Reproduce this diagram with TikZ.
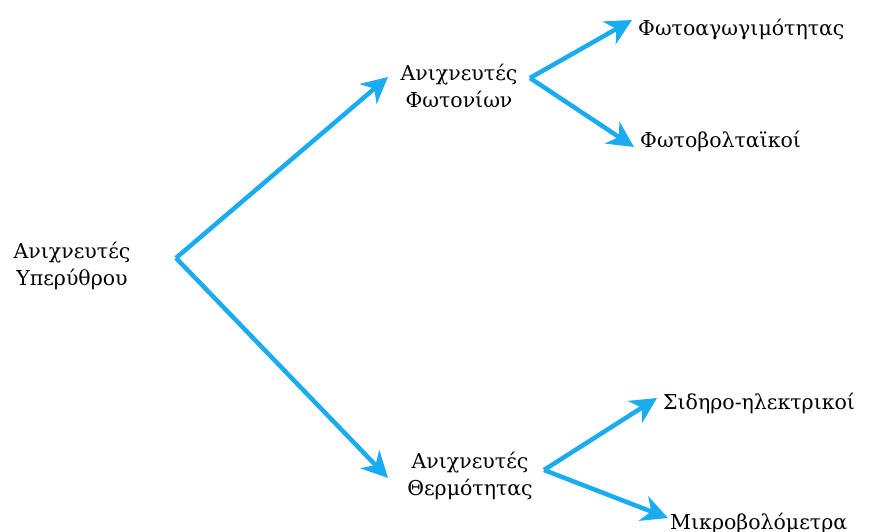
\documentclass[tikz,border=0pt]{standalone}
\usepackage{fontspec}
\setmainfont{DejaVu Serif}
\usetikzlibrary{arrows.meta,positioning,calc}
\definecolor{IrBlue}{HTML}{1AABF0}

\begin{document}
\begin{tikzpicture}[x=1pt, y=-1pt,
    lbl/.style={font=\fontsize{20.5}{27}\selectfont, align=center, inner sep=0pt},
    leaf/.style={lbl, anchor=west},
    arr/.style={-{Stealth[length=26pt, width=26pt, inset=8pt]}, line width=4.5pt, color=IrBlue}
  ]
    \useasboundingbox (0,0) rectangle (870,532);
    % detector families
    \node[lbl] (ir) at (72,266) {Ανιχνευτές\\Υπερύθρου};
    \node[lbl] (photon) at (459,86) {Ανιχνευτές\\Φωτονίων};
    \node[lbl] (thermal) at (470,476) {Ανιχνευτές\\Θερμότητας};
    % leaves
    \node[leaf] (photocond) at (638,29) {Φωτοαγωγιμότητας};
    \node[leaf] (photovolt) at (640,141) {Φωτοβολταϊκοί};
    \node[leaf] (ferro) at (663,403) {Σιδηρο-ηλεκτρικοί};
    \node[leaf] (micro) at (670,523) {Μικροβολόμετρα};
    % fork points
    \coordinate (irfork) at ($(ir.center)+(104,-8)$);
    \coordinate (photonfork) at ($(photon.center)+(71,-8)$);
    \coordinate (thermalfork) at ($(thermal.center)+(74,-6)$);
    \draw[arr] (irfork) -- ($(photon.center)+(-71,-9)$);
    \draw[arr] (irfork) -- ($(thermal.center)+(-82,2)$);
    \draw[arr] (photonfork) -- ($(photocond.west)+(-6,-9)$);
    \draw[arr] (photonfork) -- ($(photovolt.west)+(-6,6)$);
    \draw[arr] (thermalfork) -- ($(ferro.west)+(-6,-5)$);
    \draw[arr] (thermalfork) -- ($(micro.west)+(-2,-5)$);
  \end{tikzpicture}
\end{document}
